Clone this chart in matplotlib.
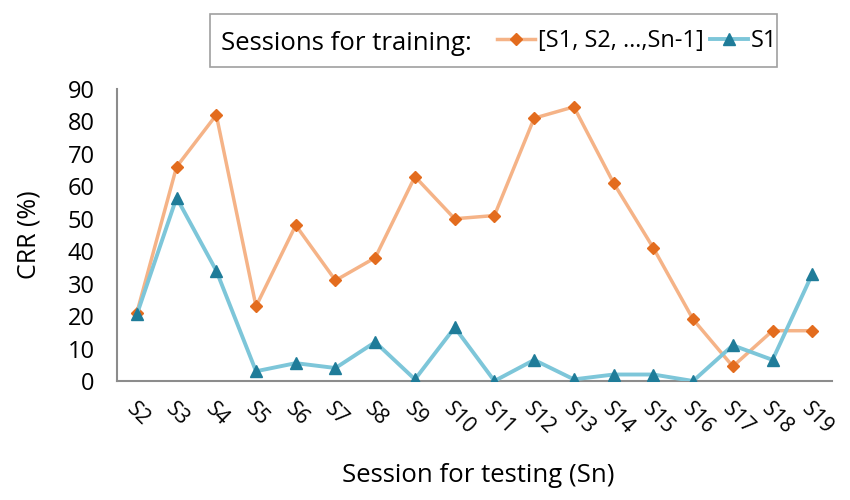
import matplotlib
matplotlib.use("Agg")
import matplotlib.pyplot as plt
from matplotlib.patches import Rectangle
from matplotlib.lines import Line2D

sessions = ["S2", "S3", "S4", "S5", "S6", "S7", "S8", "S9", "S10", "S11",
            "S12", "S13", "S14", "S15", "S16", "S17", "S18", "S19"]
crr_all = [21, 66, 82, 23, 48, 31, 38, 63, 50, 51, 81, 84.5, 61, 41, 19, 4.5, 15.5, 15.5]
crr_s1 = [20.5, 56.5, 34, 3, 5.5, 4, 12, 0.5, 16.5, 0, 6.5, 0.5, 2, 2, 0, 11, 6.5, 33]
yticks = [0, 10, 20, 30, 40, 50, 60, 70, 80, 90]

plt.rcParams['font.family'] = ['Open Sans', 'DejaVu Sans']

fig = plt.figure(figsize=(8.5, 5.0), dpi=100)
ax = fig.add_axes([0.1376, 0.238, 0.979 - 0.1376, 0.822 - 0.238])

x = list(range(len(sessions)))
ax.plot(x, crr_all, color="#F5B387", lw=2.5, marker="D", ms=6,
        mfc="#E36C1E", mec="#E36C1E", zorder=3)
ax.plot(x, crr_s1, color="#7DC6D9", lw=2.8, marker="^", ms=9,
        mfc="#1F7C99", mec="#1F7C99", zorder=4)

ax.set_xlim(-0.5, 17.5)
ax.set_ylim(0, 90)
ax.set_yticks(yticks)
ax.set_yticklabels([str(v) for v in yticks], fontsize=17)
ax.set_xticks(x)
ax.set_xticklabels(sessions, fontsize=15, rotation=-45, ha="left",
                   rotation_mode="anchor")
ax.tick_params(axis="both", length=0)
ax.tick_params(axis="x", pad=13)
ax.tick_params(axis="y", pad=16)
for s in ["top", "right"]:
    ax.spines[s].set_visible(False)
for s in ["left", "bottom"]:
    ax.spines[s].set_color("#8C8C8C")
    ax.spines[s].set_linewidth(1.5)

fig.text(0.034, 0.530, "CRR (%)", fontsize=18, rotation=90, ha="center", va="center")
fig.text(0.5625, 0.036, "Session for testing (Sn)", fontsize=18.5, ha="center", va="baseline")

# Legend frame
fig.patches.append(Rectangle((0.247, 0.866), 0.667, 0.106,
                             transform=fig.transFigure, fill=False,
                             edgecolor="#A0A0A0", lw=1.2))
fig.text(0.26, 0.90, "Sessions for training:", fontsize=18.5, va="baseline", ha="left")
handles = [
    Line2D([], [], color="#F5B387", lw=2.5, marker="D", ms=6, mfc="#E36C1E", mec="#E36C1E"),
    Line2D([], [], color="#7DC6D9", lw=2.8, marker="^", ms=8, mfc="#1F7C99", mec="#1F7C99"),
]
fig.legend(handles, ["[S1, S2, …,Sn-1]", "S1"], loc="center left",
           bbox_to_anchor=(0.5847, 0.918), ncol=2, frameon=False, fontsize=17,
           handlelength=1.6, handletextpad=0.12, columnspacing=0.3,
           borderpad=0, borderaxespad=0)

fig.savefig("out.png", dpi=100)
